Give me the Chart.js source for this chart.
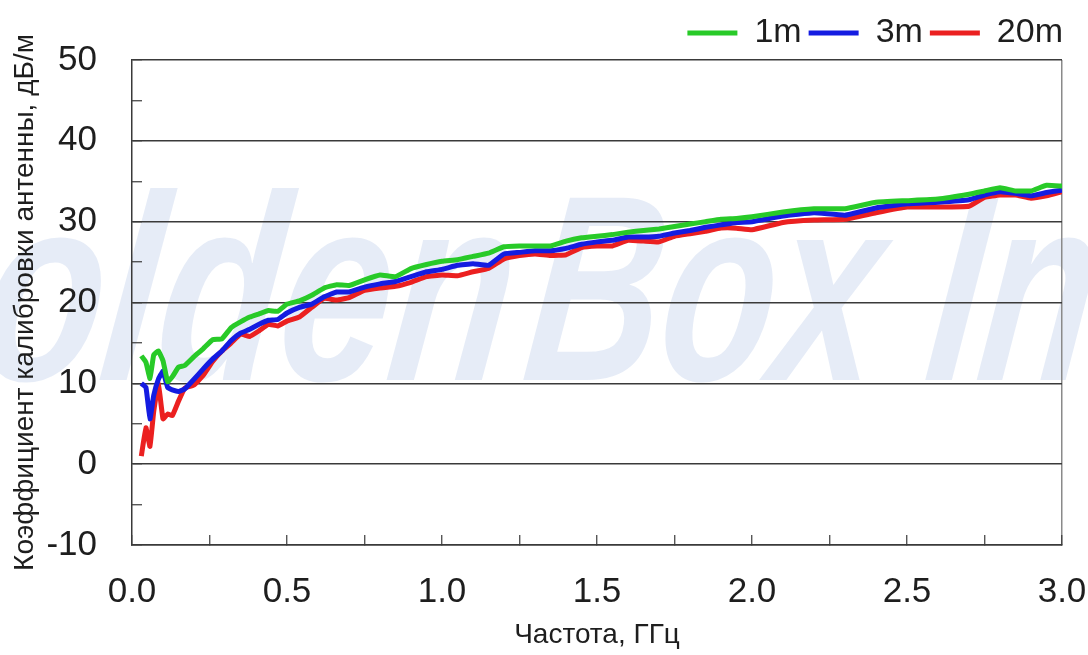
<!DOCTYPE html>
<html>
<head>
<meta charset="utf-8">
<script src="https://cdn.jsdelivr.net/npm/chart.js@4.4.1/dist/chart.umd.min.js"></script>
<style>
  html, body { margin: 0; padding: 0; background: #fff; }
  #wrap { width: 1088px; height: 655px; position: relative; }
</style>
</head>
<body>
<div id="wrap"><canvas id="antennaChart"></canvas></div>
<script>
// Frequency, GHz
const freq = [0.03, 0.045, 0.058, 0.07, 0.085, 0.1, 0.115, 0.13, 0.15, 0.17, 0.2, 0.23, 0.26, 0.29, 0.32, 0.35, 0.38, 0.41, 0.44, 0.47,
    0.5, 0.54, 0.58, 0.62, 0.66, 0.7, 0.75, 0.8, 0.85, 0.9, 0.95, 1.0, 1.05, 1.1, 1.15, 1.2, 1.25, 1.3, 1.35, 1.4,
    1.45, 1.5, 1.55, 1.6, 1.65, 1.7, 1.75, 1.8, 1.85, 1.9, 1.95, 2.0, 2.1, 2.2, 2.3, 2.4, 2.5, 2.6, 2.7, 2.75,
    2.8, 2.85, 2.9, 2.95, 3.0];

// Antenna factor, dB/m
const af1m = [13.4, 12.6, 10.6, 13.5, 14.0, 12.8, 10.2, 10.8, 12.0, 12.2, 13.3, 14.3, 15.4, 15.5, 16.9, 17.6, 18.2, 18.6, 19.0, 18.9,
    19.8, 20.2, 20.9, 21.8, 22.2, 22.1, 22.8, 23.4, 23.2, 24.2, 24.7, 25.1, 25.3, 25.7, 26.1, 26.9, 27.0, 27.0, 27.0, 27.6,
    28.0, 28.2, 28.4, 28.7, 28.9, 29.1, 29.4, 29.7, 30.0, 30.3, 30.4, 30.6, 31.2, 31.6, 31.6, 32.4, 32.6, 32.8, 33.4, 33.8,
    34.2, 33.8, 33.8, 34.5, 34.4];
const af3m = [10.0, 9.5, 5.6, 8.5, 10.5, 11.5, 9.5, 9.2, 9.0, 9.3, 10.5, 11.8, 13.0, 14.0, 15.3, 16.2, 16.7, 17.3, 17.8, 17.9,
    18.7, 19.4, 19.8, 20.7, 21.3, 21.3, 21.9, 22.3, 22.6, 23.2, 23.8, 24.1, 24.6, 24.8, 24.6, 26.0, 26.2, 26.4, 26.4, 26.7,
    27.2, 27.5, 27.7, 28.1, 28.1, 28.2, 28.6, 28.9, 29.3, 29.6, 29.9, 30.0, 30.7, 31.1, 30.8, 31.7, 32.2, 32.4, 32.7, 33.3,
    33.7, 33.5, 33.2, 33.6, 33.9];
const af20m = [1.0, 4.5, 2.2, 6.5, 10.0, 5.6, 6.2, 6.0, 7.8, 9.4, 9.8, 11.0, 12.7, 14.0, 15.0, 16.1, 15.8, 16.5, 17.3, 17.1,
    17.7, 18.2, 19.4, 20.5, 20.3, 20.6, 21.5, 21.8, 22.0, 22.5, 23.2, 23.4, 23.3, 23.8, 24.2, 25.4, 25.8, 26.0, 25.8, 25.9,
    26.8, 27.0, 27.0, 27.7, 27.6, 27.5, 28.2, 28.5, 28.8, 29.2, 29.2, 29.0, 29.9, 30.2, 30.3, 31.1, 31.8, 31.8, 31.9, 33.0,
    33.3, 33.3, 32.9, 33.2, 33.7];

const seriesNames = ['1m', '3m', '20m'];
const seriesColors = ['rgb(40, 202, 40)', 'rgb(20, 28, 225)', 'rgb(235, 32, 32)'];

const axisColor = '#3a3a3a';
const textColor = '#1e1e1e';
const fontFamily = '"Liberation Sans", Arial, sans-serif';

function toPoints(values) {
    return freq.map((f, i) => ({ x: f, y: values[i] }));
}

// faint company watermark behind the plot
const watermark = {
    id: 'watermark',
    beforeDraw(chart) {
        const ctx = chart.ctx;
        const draw = (text, x, sx) => {
            ctx.save();
            ctx.translate(x, 380);
            ctx.transform(1, 0, -0.12, 1, 0, 0);
            ctx.scale(sx, 1);
            ctx.fillText(text, 0, 0);
            ctx.restore();
        };
        ctx.save();
        ctx.fillStyle = 'rgba(222, 230, 244, 0.75)';
        ctx.font = 'italic bold 265px ' + fontFamily;
        ctx.textBaseline = 'alphabetic';
        draw('Golden', -180, 0.75);
        draw('Box Inc', 520, 0.7);
        ctx.restore();
    }
};

function initializeChart() {
    const ctx = document.getElementById('antennaChart').getContext('2d');
    const datasets = [af1m, af3m, af20m].map((values, i) => ({
        label: seriesNames[i],
        data: toPoints(values),
        borderColor: seriesColors[i],
        backgroundColor: seriesColors[i],
        borderWidth: 5,
        pointRadius: 0,
        tension: 0.1
    }));

    new Chart(ctx, {
        type: 'line',
        data: { datasets },
        plugins: [watermark],
        options: {
            responsive: true,
            maintainAspectRatio: false,
            animation: false,
            layout: {
                padding: { top: 4, right: 18, bottom: 0, left: 0 }
            },
            plugins: {
                legend: {
                    position: 'top',
                    align: 'end',
                    labels: {
                        usePointStyle: true,
                        pointStyle: 'line',
                        pointStyleWidth: 50,
                        boxHeight: 34,
                        padding: 7,
                        color: textColor,
                        font: { family: fontFamily, size: 34 }
                    }
                },
                tooltip: { enabled: false }
            },
            scales: {
                x: {
                    type: 'linear',
                    min: 0,
                    max: 3,
                    afterFit(scale) {
                        scale.height = 110;
                        scale.paddingLeft = 0;
                        scale.paddingRight = 26;
                    },
                    ticks: {
                        stepSize: 0.25,
                        autoSkip: false,
                        maxRotation: 0,
                        padding: 36,
                        color: textColor,
                        font: { family: fontFamily, size: 35 },
                        callback: (v) => Math.abs(v * 2 - Math.round(v * 2)) < 1e-6 ? Number(v).toFixed(1) : ''
                    },
                    grid: {
                        tickLength: -10,
                        lineWidth: 1.5,
                        color: (c) => (c.tick && Math.abs(c.tick.value - 3) < 1e-6) ? '#8a8a8a' : 'rgba(0,0,0,0)',
                        tickColor: axisColor,
                        tickWidth: 1.2
                    },
                    border: { color: axisColor, width: 1.5 },
                    title: {
                        display: true,
                        text: 'Частота, ГГц',
                        color: textColor,
                        padding: { top: 0, bottom: 3 },
                        font: { family: fontFamily, size: 28 }
                    }
                },
                y: {
                    min: -10,
                    max: 50,
                    afterFit(scale) {
                        scale.width = 132;
                        scale.paddingTop = 60;
                    },
                    ticks: {
                        stepSize: 5,
                        autoSkip: false,
                        padding: 45,
                        color: textColor,
                        font: { family: fontFamily, size: 35 },
                        callback: (v) => v % 10 === 0 ? String(v) : ''
                    },
                    grid: {
                        tickLength: -10,
                        lineWidth: 1.5,
                        color: (c) => (c.tick && c.tick.value % 10 === 0) ? axisColor : 'rgba(0,0,0,0)',
                        tickColor: axisColor,
                        tickWidth: 1.2
                    },
                    border: { color: axisColor, width: 1.5 },
                    title: {
                        display: true,
                        text: 'Коэффициент калибровки антенны, дБ/м',
                        color: textColor,
                        padding: { top: 8, bottom: 0 },
                        font: { family: fontFamily, size: 28 }
                    }
                }
            }
        }
    });
}

document.addEventListener('DOMContentLoaded', initializeChart);
</script>
</body>
</html>
